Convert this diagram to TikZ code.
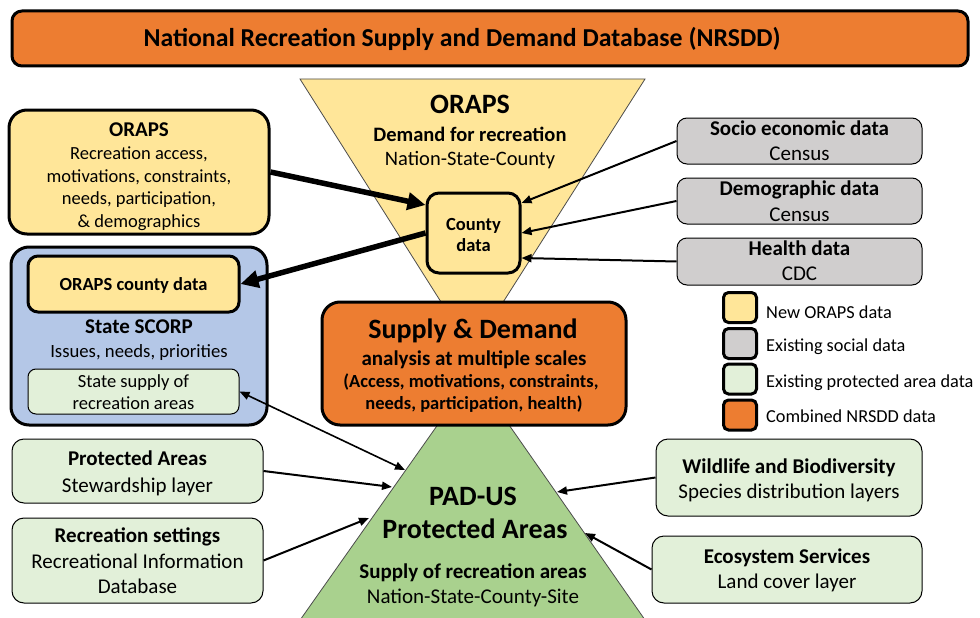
\documentclass[tikz,border=0pt]{standalone}
\usepackage{fontspec}
\setmainfont{Carlito}
\usetikzlibrary{arrows.meta}
\definecolor{orng}{HTML}{ED7D31}
\definecolor{yel}{HTML}{FFE699}
\definecolor{blu}{HTML}{B4C7E7}
\definecolor{gry}{HTML}{D0CECE}
\definecolor{lgrn}{HTML}{E2F0D9}
\definecolor{grn}{HTML}{A9D18E}
\newcommand\fz[1]{\fontsize{#1}{#1}\selectfont}
\tikzset{
  thickbox/.style={draw, line width=3pt, inner sep=0pt, rounded corners=#1},
  thickbox/.default=16pt,
  thinbox/.style={draw, line width=1pt, inner sep=0pt, rounded corners=#1},
  thinbox/.default=10pt,
  tb/.style={anchor=base, inner sep=0pt},
  tl/.style={anchor=base west, inner sep=0pt},
  bigarrow/.style={line width=5.5pt, -{Triangle[length=18pt,width=17pt]}},
  smallarrow/.style={line width=2pt, -{Triangle[length=10pt,width=8pt]}},
  tri/.style={draw=black!70, line width=0.8pt},
  legsq/.style={draw, line width=3pt, inner sep=0pt, rounded corners=5pt, minimum width=33pt, minimum height=30pt}
}
\begin{document}
\begin{tikzpicture}[x=1pt,y=-1pt]
\clip (0,0) rectangle (980,618);
\fill[white] (0,0) rectangle (980,618);

% title bar
\node[thickbox=10pt, fill=orng, minimum width=956pt, minimum height=55pt] (title) at (490,38.5) {};
\node[tb, font=\fz{25.8}\bfseries] (titleT) at (462,47) {National Recreation Supply and Demand Database (NRSDD)};

% triangles
\draw[tri, fill=yel] (300,79) -- (645,79) -- (472,351) -- cycle;
\draw[tri, fill=grn] (473.5,374) -- (286,640) -- (659,640) -- cycle;

\node[tb, font=\fz{28}\bfseries] (orapsTop) at (470,113) {ORAPS};
\node[tb, font=\fz{20.5}\bfseries] (demandT) at (470,141) {Demand for recreation};
\node[tb, font=\fz{20.5}] (nscT) at (470,165) {Nation-State-County};

\node[tb, font=\fz{28}\bfseries] (padT1) at (473,505) {PAD-US};
\node[tb, font=\fz{28}\bfseries] (padT2) at (475,538) {Protected Areas};
\node[tb, font=\fz{21}\bfseries] (padT3) at (473,578) {Supply of recreation areas};
\node[tb, font=\fz{21}] (padT4) at (473,603) {Nation-State-County-Site};

% county data
\node[thickbox=12pt, fill=yel, minimum width=93pt, minimum height=80pt] (county) at (473.5,233) {};
\node[tb, font=\fz{18.5}\bfseries] (countyT1) at (473.5,230) {County};
\node[tb, font=\fz{18.5}\bfseries] (countyT2) at (473.5,251) {data};

% supply & demand
\node[thickbox=18pt, fill=orng, minimum width=304pt, minimum height=123pt] (sd) at (474,363.5) {};
\node[tb, font=\fz{28}\bfseries] (sdT1) at (473,338) {Supply \& Demand};
\node[tb, font=\fz{21}\bfseries] (sdT2) at (474,365) {analysis at multiple scales};
\node[tb, font=\fz{18.5}\bfseries] (sdT3) at (471,387) {(Access, motivations, constraints,};
\node[tb, font=\fz{18.5}\bfseries] (sdT4) at (474,409) {needs, participation, health)};

% ORAPS box
\node[thickbox=18pt, fill=yel, minimum width=260pt, minimum height=124pt] (oraps) at (139,172) {};
\node[tb, font=\fz{21}\bfseries] (orapsT1) at (139,136) {ORAPS};
\node[tb, font=\fz{18.5}] (orapsT2) at (139,159) {Recreation access,};
\node[tb, font=\fz{18.5}] (orapsT3) at (139,182) {motivations, constraints,};
\node[tb, font=\fz{18.5}] (orapsT4) at (139,204) {needs, participation,};
\node[tb, font=\fz{18.5}] (orapsT5) at (139,227) {\& demographics};

% State SCORP
\node[thickbox=18pt, fill=blu, minimum width=256pt, minimum height=178pt] (scorp) at (139,336) {};
\node[thickbox=10pt, fill=yel, minimum width=211pt, minimum height=56pt] (ocounty) at (133.5,284) {};
\node[tb, font=\fz{18.5}\bfseries] (ocountyT) at (133.5,290) {ORAPS county data};
\node[tb, font=\fz{21}\bfseries] (scorpT1) at (139,333) {State SCORP};
\node[tb, font=\fz{18.7}] (scorpT2) at (139,357) {Issues, needs, priorities};
\node[thinbox=8pt, fill=lgrn, minimum width=211pt, minimum height=45pt] (ssupply) at (133.5,391.5) {};
\node[tb, font=\fz{18.5}] (ssupplyT1) at (133.5,387) {State supply of};
\node[tb, font=\fz{18.5}] (ssupplyT2) at (133.5,409) {recreation areas};

% right grey boxes
\node[thinbox, fill=gry, minimum width=245pt, minimum height=46pt] (socio) at (799.5,141) {};
\node[tb, font=\fz{21}\bfseries] (socioT1) at (799.5,135) {Socio economic data};
\node[tb, font=\fz{21}] (socioT2) at (799.5,160) {Census};
\node[thinbox, fill=gry, minimum width=245pt, minimum height=46pt] (demo) at (799.5,201) {};
\node[tb, font=\fz{21}\bfseries] (demoT1) at (799.5,195) {Demographic data};
\node[tb, font=\fz{21}] (demoT2) at (799.5,221) {Census};
\node[thinbox, fill=gry, minimum width=245pt, minimum height=47pt] (health) at (799.5,261.5) {};
\node[tb, font=\fz{21}\bfseries] (healthT1) at (799.5,255) {Health data};
\node[tb, font=\fz{21}] (healthT2) at (799.5,280) {CDC};

% legend
\node[legsq, fill=yel] (lg1) at (740,307.5) {};
\node[legsq, fill=gry] (lg2) at (740,343.5) {};
\node[legsq, fill=lgrn] (lg3) at (740,379) {};
\node[legsq, fill=orng] (lg4) at (740,415) {};
\node[tl, font=\fz{18.3}] (lgT1) at (766,318) {New ORAPS data};
\node[tl, font=\fz{18.3}] (lgT2) at (766,351) {Existing social data};
\node[tl, font=\fz{18.3}] (lgT3) at (766,387) {Existing protected area data};
\node[tl, font=\fz{18.3}] (lgT4) at (766,422) {Combined NRSDD data};

% left green boxes
\node[thinbox=12pt, fill=lgrn, minimum width=251pt, minimum height=64pt] (prot) at (137.5,471) {};
\node[tb, font=\fz{21}\bfseries] (protT1) at (137.5,465) {Protected Areas};
\node[tb, font=\fz{21}] (protT2) at (137.5,492) {Stewardship layer};
\node[thinbox=12pt, fill=lgrn, minimum width=251pt, minimum height=85pt] (recset) at (137.5,560.5) {};
\node[tb, font=\fz{21}\bfseries] (recsetT1) at (137.5,542) {Recreation settings};
\node[tb, font=\fz{21}] (recsetT2) at (137.5,568) {Recreational Information};
\node[tb, font=\fz{21}] (recsetT3) at (137.5,593) {Database};

% right green boxes
\node[thinbox=12pt, fill=lgrn, minimum width=266pt, minimum height=77pt] (wild) at (789,477.5) {};
\node[tb, font=\fz{21}\bfseries] (wildT1) at (789,473) {Wildlife and Biodiversity};
\node[tb, font=\fz{21}] (wildT2) at (789,498) {Species distribution layers};
\node[thinbox=12pt, fill=lgrn, minimum width=270pt, minimum height=67pt] (eco) at (787,569.5) {};
\node[tb, font=\fz{21}\bfseries] (ecoT1) at (787,563) {Ecosystem Services};
\node[tb, font=\fz{21}] (ecoT2) at (787,588) {Land cover layer};

% connector end points on the PAD-US triangle
\coordinate (padA) at (405,470);
\coordinate (padB) at (392,487);
\coordinate (padC) at (369,518);
\coordinate (padD) at (557,492);
\coordinate (padE) at (585,533);

% connectors
\draw[bigarrow] (oraps.east) -- ([yshift=28pt]county.west);
\draw[bigarrow] (county.west) -- (ocounty.east);
\draw[smallarrow] (socio.west) -- ([yshift=30pt]county.east);
\draw[smallarrow] (demo.west) -- (county.east);
\draw[smallarrow] (health.west) -- ([yshift=-25pt]county.east);
\draw[line width=1.6pt, {Triangle[length=10pt,width=8pt]}-{Triangle[length=10pt,width=8pt]}] (ssupply.east) -- (padA);
\draw[smallarrow] (prot.east) -- (padB);
\draw[smallarrow] (recset.east) -- (padC);
\draw[smallarrow] (wild.west) -- (padD);
\draw[smallarrow] (eco.west) -- (padE);
\end{tikzpicture}
\end{document}
